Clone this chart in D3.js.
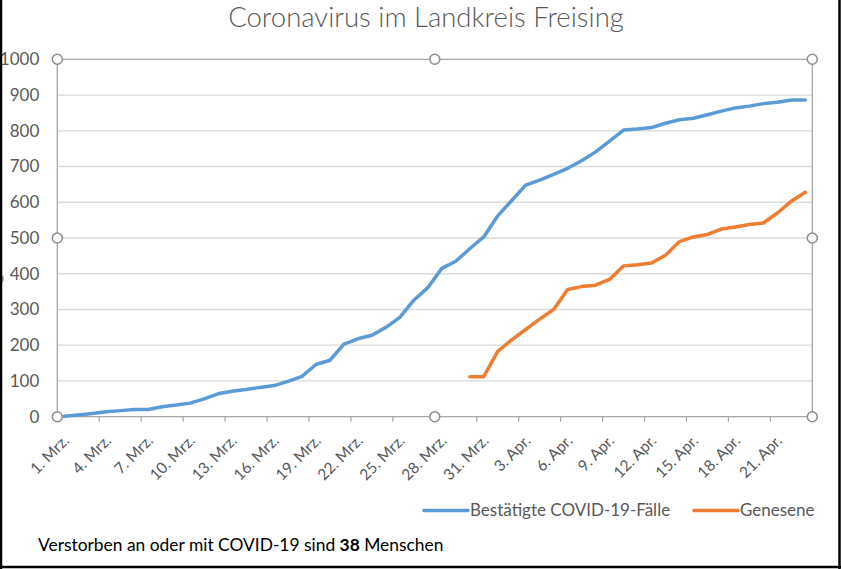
<!DOCTYPE html>
<html>
<head>
<meta charset="utf-8">
<script src="https://cdn.jsdelivr.net/npm/d3@7.9.0/dist/d3.min.js"></script>
<style>
  body { margin: 0; background: #fff; }
  svg { display: block; font-family: Lato, "Open Sans", sans-serif; }
</style>
</head>
<body>
<svg id="chart" width="841" height="569"></svg>
<script>
// categories: one per day, 1 Mrz. to 23 Apr. 2020
const days = d3.timeDay.range(new Date(2020, 2, 1), new Date(2020, 3, 24));

// tick labels (every third day)
const tickLabels = ["1. Mrz.", "4. Mrz.", "7. Mrz.", "10. Mrz.", "13. Mrz.", "16. Mrz.",
  "19. Mrz.", "22. Mrz.", "25. Mrz.", "28. Mrz.", "31. Mrz.", "3. Apr.", "6. Apr.",
  "9. Apr.", "12. Apr.", "15. Apr.", "18. Apr.", "21. Apr."];

// Bestätigte COVID-19-Fälle
const confirmed = [1, 5, 9, 14, 17, 20, 20, 28, 33, 38,
  50, 64, 71, 76, 82, 87, 99, 113, 146, 158,
  203, 218, 228, 250, 278, 326, 361, 415, 435, 470,
  503, 562, 605, 648, 662, 678, 695, 716, 741, 771,
  802, 805, 809, 821, 831, 835, 845, 855, 864, 869,
  876, 880, 886, 886];

// Genesene (erst ab 30. Mrz.)
const recovered = [null, null, null, null, null, null, null, null, null, null,
  null, null, null, null, null, null, null, null, null, null,
  null, null, null, null, null, null, null, null, null, 112,
  112, 183, 215, 244, 273, 300, 356, 364, 368, 384,
  422, 425, 430, 452, 490, 503, 510, 525, 531, 538,
  542, 570, 603, 628];

const yTicks = [0, 100, 200, 300, 400, 500, 600, 700, 800, 900, 1000];

const W = 841, H = 569;
const plotL = 57.3, plotR = 812.3, plotT = 59.3, plotB = 416.7;
const blue = "#5b9bd5", orange = "#ed7d31";

const svg = d3.select("#chart");

svg.append("rect").attr("width", W).attr("height", H).attr("fill", "#fff");

const x = d3.scaleBand().domain(d3.range(days.length)).range([plotL, plotR]).padding(0);
const cx = (i) => x(i) + x.bandwidth() / 2;
const y = d3.scaleLinear().domain([0, 1000]).range([plotB, plotT]);

// title
svg.append("text")
  .attr("x", 426).attr("y", 27)
  .attr("text-anchor", "middle")
  .attr("fill", "#595959")
  .style("font-size", "27.5px")
  .style("font-weight", 300)
  .text("Coronavirus im Landkreis Freising");

// gridlines
svg.append("g")
  .selectAll("line")
  .data(yTicks.filter((d) => d > 0 && d < 1000))
  .join("line")
  .attr("x1", plotL).attr("x2", plotR)
  .attr("y1", (d) => y(d)).attr("y2", (d) => y(d))
  .attr("stroke", "#d9d9d9").attr("stroke-width", 1.3);

// y axis labels
const yAxis = svg.append("g")
  .attr("transform", `translate(${plotL},0)`)
  .call(d3.axisLeft(y).tickValues(yTicks).tickFormat(d3.format("d")).tickSize(0).tickPadding(18));
yAxis.select(".domain").remove();
yAxis.selectAll("text")
  .attr("fill", "#595959")
  .style("font-size", "17px")
  .style("font-family", "Lato, sans-serif");

// x tick marks at every third category boundary
const tickIdx = d3.range(0, days.length + 1, 3);
svg.append("g")
  .selectAll("line")
  .data(tickIdx)
  .join("line")
  .attr("x1", (i) => (i < days.length ? x(i) : plotR))
  .attr("x2", (i) => (i < days.length ? x(i) : plotR))
  .attr("y1", plotB).attr("y2", plotB + 5)
  .attr("stroke", "#a6a6a6").attr("stroke-width", 1.2);

// x labels
svg.append("g")
  .selectAll("text")
  .data(tickLabels)
  .join("text")
  .attr("transform", (d, k) => `translate(${cx(k * 3) + 2},${plotB + 21}) rotate(-45)`)
  .attr("text-anchor", "end")
  .attr("dy", "0.35em")
  .attr("fill", "#595959")
  .style("font-size", "15.5px")
  .text((d) => d);

// plot area outline (selected)
const frame = svg.append("g").attr("stroke", "#a6a6a6").attr("stroke-width", 1.3).attr("fill", "none");
frame.append("line").attr("x1", plotL).attr("x2", plotR).attr("y1", plotT).attr("y2", plotT);
frame.append("line").attr("x1", plotL).attr("x2", plotR).attr("y1", plotB).attr("y2", plotB);
frame.append("line").attr("x1", plotL).attr("x2", plotL).attr("y1", plotT).attr("y2", plotB);
frame.append("line").attr("x1", plotR).attr("x2", plotR).attr("y1", plotT).attr("y2", plotB);

// lines
const line = d3.line()
  .defined((d) => d != null)
  .x((d, i) => cx(i))
  .y((d) => y(d));

svg.append("path")
  .datum(confirmed)
  .attr("d", line)
  .attr("fill", "none")
  .attr("stroke", blue)
  .attr("stroke-width", 3.5)
  .attr("stroke-linejoin", "round")
  .attr("stroke-linecap", "round");

svg.append("path")
  .datum(recovered)
  .attr("d", line)
  .attr("fill", "none")
  .attr("stroke", orange)
  .attr("stroke-width", 3.5)
  .attr("stroke-linejoin", "round")
  .attr("stroke-linecap", "round");

// selection handles
const midX = (plotL + plotR) / 2, midY = (plotT + plotB) / 2;
const handles = [[plotL, plotT], [midX, plotT], [plotR, plotT], [plotL, midY], [plotR, midY],
  [plotL, plotB], [midX, plotB], [plotR, plotB], [-2, 279]];
svg.append("g")
  .selectAll("circle")
  .data(handles)
  .join("circle")
  .attr("cx", (d) => d[0]).attr("cy", (d) => d[1]).attr("r", 5)
  .attr("fill", "#fff").attr("stroke", "#8c8c8c").attr("stroke-width", 1.5);

// legend
const legendItems = [
  { label: "Bestätigte COVID-19-Fälle", color: blue, x: 424 },
  { label: "Genesene", color: orange, x: 694 }
];
const lg = svg.append("g")
  .selectAll("g")
  .data(legendItems)
  .join("g")
  .attr("transform", (d) => `translate(${d.x},510.5)`);
lg.append("line")
  .attr("x1", 0).attr("x2", 44)
  .attr("stroke", (d) => d.color).attr("stroke-width", 3.5)
  .attr("stroke-linecap", "round");
lg.append("text")
  .attr("x", 46).attr("dy", "0.35em")
  .attr("fill", "#595959")
  .style("font-size", "17px")
  .text((d) => d.label);

// footer
const foot = svg.append("text")
  .attr("x", 38).attr("y", 551)
  .attr("fill", "#000")
  .style("font-size", "17.4px");
foot.append("tspan").text("Verstorben an oder mit COVID-19 sind ");
foot.append("tspan").style("font-weight", 700).text("38");
foot.append("tspan").text(" Menschen");

// outer border
const border = svg.append("g").attr("stroke", "#000").attr("stroke-width", 2.5);
border.append("line").attr("x1", 1).attr("x2", 1).attr("y1", 0).attr("y2", H);
border.append("line").attr("x1", W - 1.5).attr("x2", W - 1.5).attr("y1", 0).attr("y2", H);
border.append("line").attr("x1", 0).attr("x2", W).attr("y1", H - 2).attr("y2", H - 2);
</script>
</body>
</html>
